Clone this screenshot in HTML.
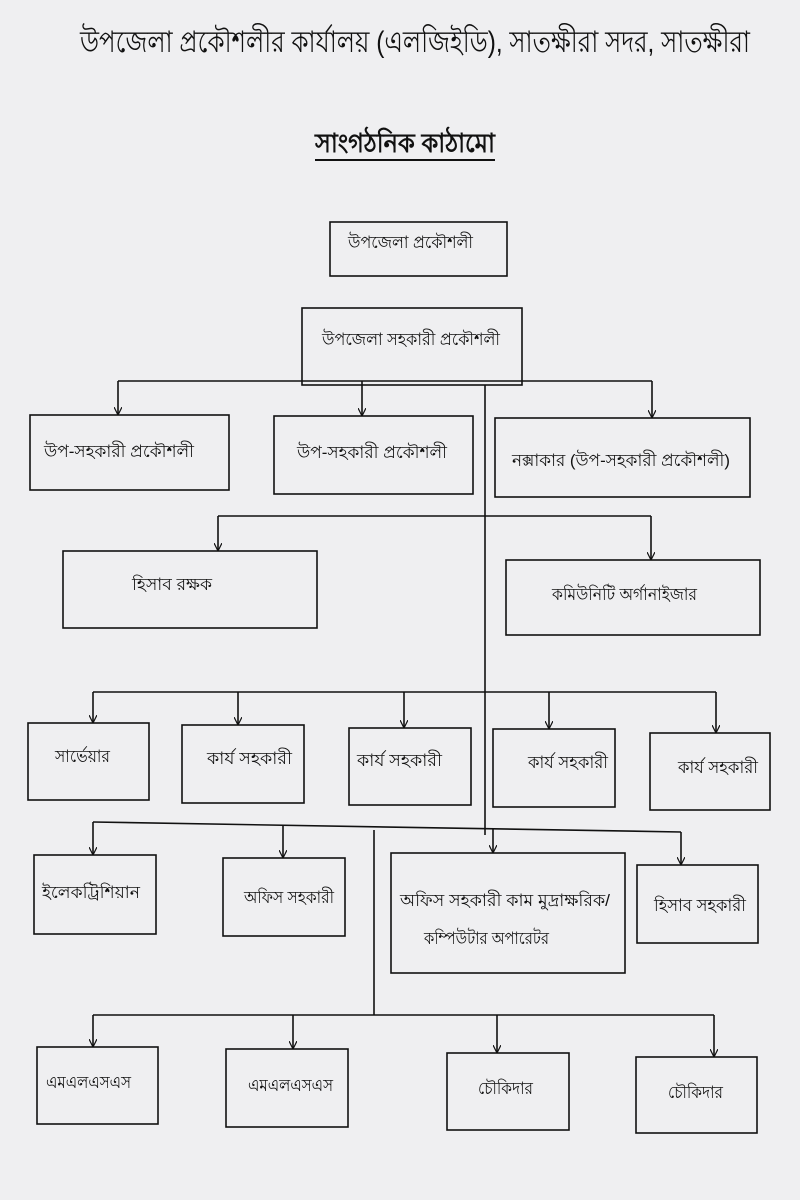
<!DOCTYPE html>
<html><head><meta charset="utf-8"><style>
html,body{margin:0;padding:0;background:#efeff1;}
svg{display:block}
text{font-family:"Liberation Sans","Noto Sans CJK SC",sans-serif;fill:#111}
</style></head><body>
<svg width="800" height="1200" viewBox="0 0 800 1200" xmlns="http://www.w3.org/2000/svg">
<defs><marker id="a" markerWidth="8" markerHeight="8" refX="4" refY="7" orient="0" markerUnits="userSpaceOnUse"><path d="M0,0 L4,8 L8,0" fill="none" stroke="#111" stroke-width="1.2"/></marker></defs>
<rect width="800" height="1200" fill="#efeff1"/>
<text x="80" y="52" font-size="30" textLength="670" lengthAdjust="spacingAndGlyphs">উপজেলা প্রকৌশলীর কার্যালয় (এলজিইডি), সাতক্ষীরা সদর, সাতক্ষীরা</text>
<text x="315" y="152" font-size="26" font-weight="bold" textLength="180" lengthAdjust="spacingAndGlyphs">সাংগঠনিক কাঠামো</text>
<line x1="315" y1="160" x2="495" y2="160" stroke="#111" stroke-width="2"/>
<g fill="none" stroke="#111" stroke-width="1.6">
<rect x="330" y="222" width="177" height="54"/>
<rect x="302" y="308" width="220" height="77"/>
<rect x="30" y="415" width="199" height="75"/>
<rect x="274" y="416" width="199" height="78"/>
<rect x="495" y="418" width="255" height="79"/>
<rect x="63" y="551" width="254" height="77"/>
<rect x="506" y="560" width="254" height="75"/>
<rect x="28" y="723" width="121" height="77"/>
<rect x="182" y="725" width="122" height="78"/>
<rect x="349" y="728" width="122" height="77"/>
<rect x="493" y="729" width="122" height="78"/>
<rect x="650" y="733" width="120" height="77"/>
<rect x="34" y="855" width="122" height="79"/>
<rect x="223" y="858" width="122" height="78"/>
<rect x="391" y="853" width="234" height="120"/>
<rect x="637" y="865" width="121" height="78"/>
<rect x="37" y="1047" width="121" height="77"/>
<rect x="226" y="1049" width="122" height="78"/>
<rect x="447" y="1053" width="122" height="77"/>
<rect x="636" y="1057" width="121" height="76"/>
<path d="M485 385 V835"/>
<path d="M118 381 H652"/>
<path d="M118 381 V414" marker-end="url(#a)"/><path d="M362 381 V415" marker-end="url(#a)"/><path d="M652 381 V417" marker-end="url(#a)"/>
<path d="M218 516 H651"/>
<path d="M218 516 V550" marker-end="url(#a)"/><path d="M651 516 V559" marker-end="url(#a)"/>
<path d="M93 692 H716"/>
<path d="M93 692 V722" marker-end="url(#a)"/><path d="M238 692 V724" marker-end="url(#a)"/><path d="M404 692 V727" marker-end="url(#a)"/><path d="M549 692 V728" marker-end="url(#a)"/><path d="M716 692 V732" marker-end="url(#a)"/>
<path d="M93 822 L681 832"/>
<path d="M93 822 V854" marker-end="url(#a)"/><path d="M283 825 V857" marker-end="url(#a)"/><path d="M493 828 V852" marker-end="url(#a)"/><path d="M681 832 V864" marker-end="url(#a)"/>
<path d="M374 830 V1015"/>
<path d="M93 1015 H714"/>
<path d="M93 1015 V1046" marker-end="url(#a)"/><path d="M293 1015 V1048" marker-end="url(#a)"/><path d="M497 1015 V1052" marker-end="url(#a)"/><path d="M714 1015 V1056" marker-end="url(#a)"/>
</g>
<g font-size="17">
<text x="348" y="248" textLength="125" lengthAdjust="spacingAndGlyphs">উপজেলা প্রকৌশলী</text>
<text x="322" y="345" textLength="178" lengthAdjust="spacingAndGlyphs">উপজেলা সহকারী প্রকৌশলী</text>
<text x="44" y="457" textLength="150" lengthAdjust="spacingAndGlyphs">উপ-সহকারী প্রকৌশলী</text>
<text x="297" y="458" textLength="150" lengthAdjust="spacingAndGlyphs">উপ-সহকারী প্রকৌশলী</text>
<text x="512" y="466" textLength="218" lengthAdjust="spacingAndGlyphs">নক্সাকার (উপ-সহকারী প্রকৌশলী)</text>
<text x="132" y="590" textLength="80" lengthAdjust="spacingAndGlyphs">হিসাব রক্ষক</text>
<text x="552" y="600" textLength="145" lengthAdjust="spacingAndGlyphs">কমিউনিটি অর্গানাইজার</text>
<text x="55" y="762" textLength="55" lengthAdjust="spacingAndGlyphs">সার্ভেয়ার</text>
<text x="207" y="764" textLength="85" lengthAdjust="spacingAndGlyphs">কার্য সহকারী</text>
<text x="357" y="766" textLength="85" lengthAdjust="spacingAndGlyphs">কার্য সহকারী</text>
<text x="528" y="768" textLength="80" lengthAdjust="spacingAndGlyphs">কার্য সহকারী</text>
<text x="678" y="773" textLength="80" lengthAdjust="spacingAndGlyphs">কার্য সহকারী</text>
<text x="42" y="898" textLength="98" lengthAdjust="spacingAndGlyphs">ইলেকট্রিশিয়ান</text>
<text x="244" y="903" textLength="90" lengthAdjust="spacingAndGlyphs">অফিস সহকারী</text>
<text x="400" y="906" textLength="210" lengthAdjust="spacingAndGlyphs">অফিস সহকারী কাম মুদ্রাক্ষরিক/</text>
<text x="424" y="944" textLength="125" lengthAdjust="spacingAndGlyphs">কম্পিউটার অপারেটর</text>
<text x="654" y="911" textLength="92" lengthAdjust="spacingAndGlyphs">হিসাব সহকারী</text>
<text x="46" y="1088" textLength="85" lengthAdjust="spacingAndGlyphs">এমএলএসএস</text>
<text x="248" y="1091" textLength="85" lengthAdjust="spacingAndGlyphs">এমএলএসএস</text>
<text x="478" y="1094" textLength="55" lengthAdjust="spacingAndGlyphs">চৌকিদার</text>
<text x="668" y="1098" textLength="55" lengthAdjust="spacingAndGlyphs">চৌকিদার</text>
</g>
</svg>
</body></html>
